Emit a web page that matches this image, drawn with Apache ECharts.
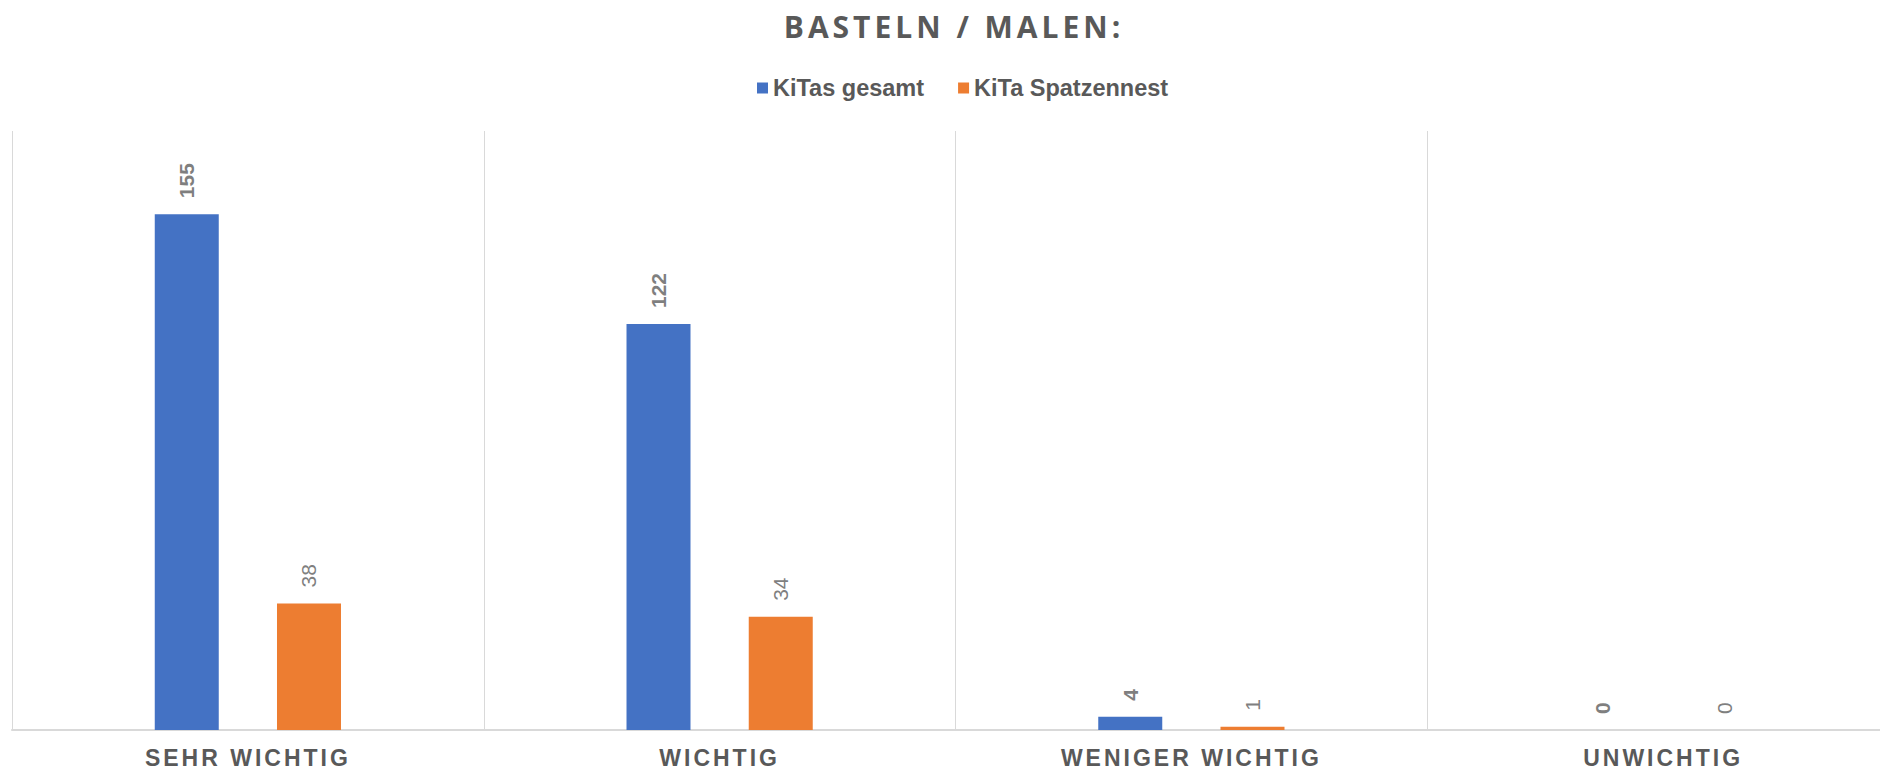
<!DOCTYPE html>
<html>
<head>
<meta charset="utf-8">
<script src="https://cdn.jsdelivr.net/npm/echarts@6/dist/echarts.min.js"></script>
<style>
  html, body { margin: 0; padding: 0; background: #fff; }
  #chart { width: 1880px; height: 769px; }
  /* ECharts has no letter-spacing option, so space out title and axis labels via CSS on the SVG text */
  #chart text[style*="Open Sans"], #chart text[font-family*="Open Sans"] { letter-spacing: 4px; }
  #chart text[style*="Liberation Sans"], #chart text[font-family*="Liberation Sans"] { letter-spacing: 3px; }
</style>
</head>
<body>
<div id="chart"></div>
<script>
const categories = ['SEHR WICHTIG', 'WICHTIG', 'WENIGER WICHTIG', 'UNWICHTIG'];
const kitasGesamt = [155, 122, 4, 0];
const kitaSpatzennest = [38, 34, 1, 0];
const seriesNames = ['KiTas gesamt', 'KiTa Spatzennest'];

const chart = echarts.init(document.getElementById('chart'), null, { renderer: 'svg' });

const valueLabel = (weight) => ({
  show: true,
  position: 'top',
  distance: 16,
  rotate: 90,
  align: 'left',
  verticalAlign: 'middle',
  fontFamily: 'Arial',
  fontSize: 21,
  fontWeight: weight,
  color: '#7f7f7f'
});

chart.setOption({
  animation: false,
  // title and legend sit centred on the full (cut off) plot, not on the page
  title: {
    text: 'BASTELN / MALEN:',
    left: 949,
    textAlign: 'center',
    top: 6,
    textStyle: {
      fontFamily: 'Open Sans',
      fontSize: 30,
      fontWeight: 'bold',
      color: '#595959'
    }
  },
  legend: {
    data: seriesNames,
    top: 71,
    left: 752,
    icon: 'rect',
    itemWidth: 11,
    itemHeight: 11,
    itemGap: 34,
    textStyle: {
      fontFamily: 'Arial',
      fontSize: 23.5,
      fontWeight: 'bold',
      color: '#595959'
    }
  },
  // the plot runs past the right edge of the picture
  grid: { left: 12, top: 131, bottom: 39, width: 1887, outerBoundsMode: 'none' },
  xAxis: {
    type: 'category',
    data: categories,
    axisLine: { lineStyle: { color: '#d9d9d9', width: 2 } },
    axisTick: { show: false },
    splitLine: { show: true, lineStyle: { color: '#d9d9d9', width: 1 } },
    axisLabel: {
      margin: 16,
      fontFamily: 'Liberation Sans',
      fontSize: 23,
      fontWeight: 'bold',
      color: '#595959'
    }
  },
  yAxis: {
    type: 'value',
    min: 0,
    max: 180,
    show: false,
    splitLine: { show: false }
  },
  series: [
    {
      name: seriesNames[0],
      type: 'bar',
      data: kitasGesamt,
      barWidth: 64,
      barGap: '91%',
      itemStyle: { color: '#4472c4' },
      label: valueLabel('bold')
    },
    {
      name: seriesNames[1],
      type: 'bar',
      data: kitaSpatzennest,
      barWidth: 64,
      itemStyle: { color: '#ed7d31' },
      label: valueLabel('normal')
    }
  ]
});
</script>
</body>
</html>
